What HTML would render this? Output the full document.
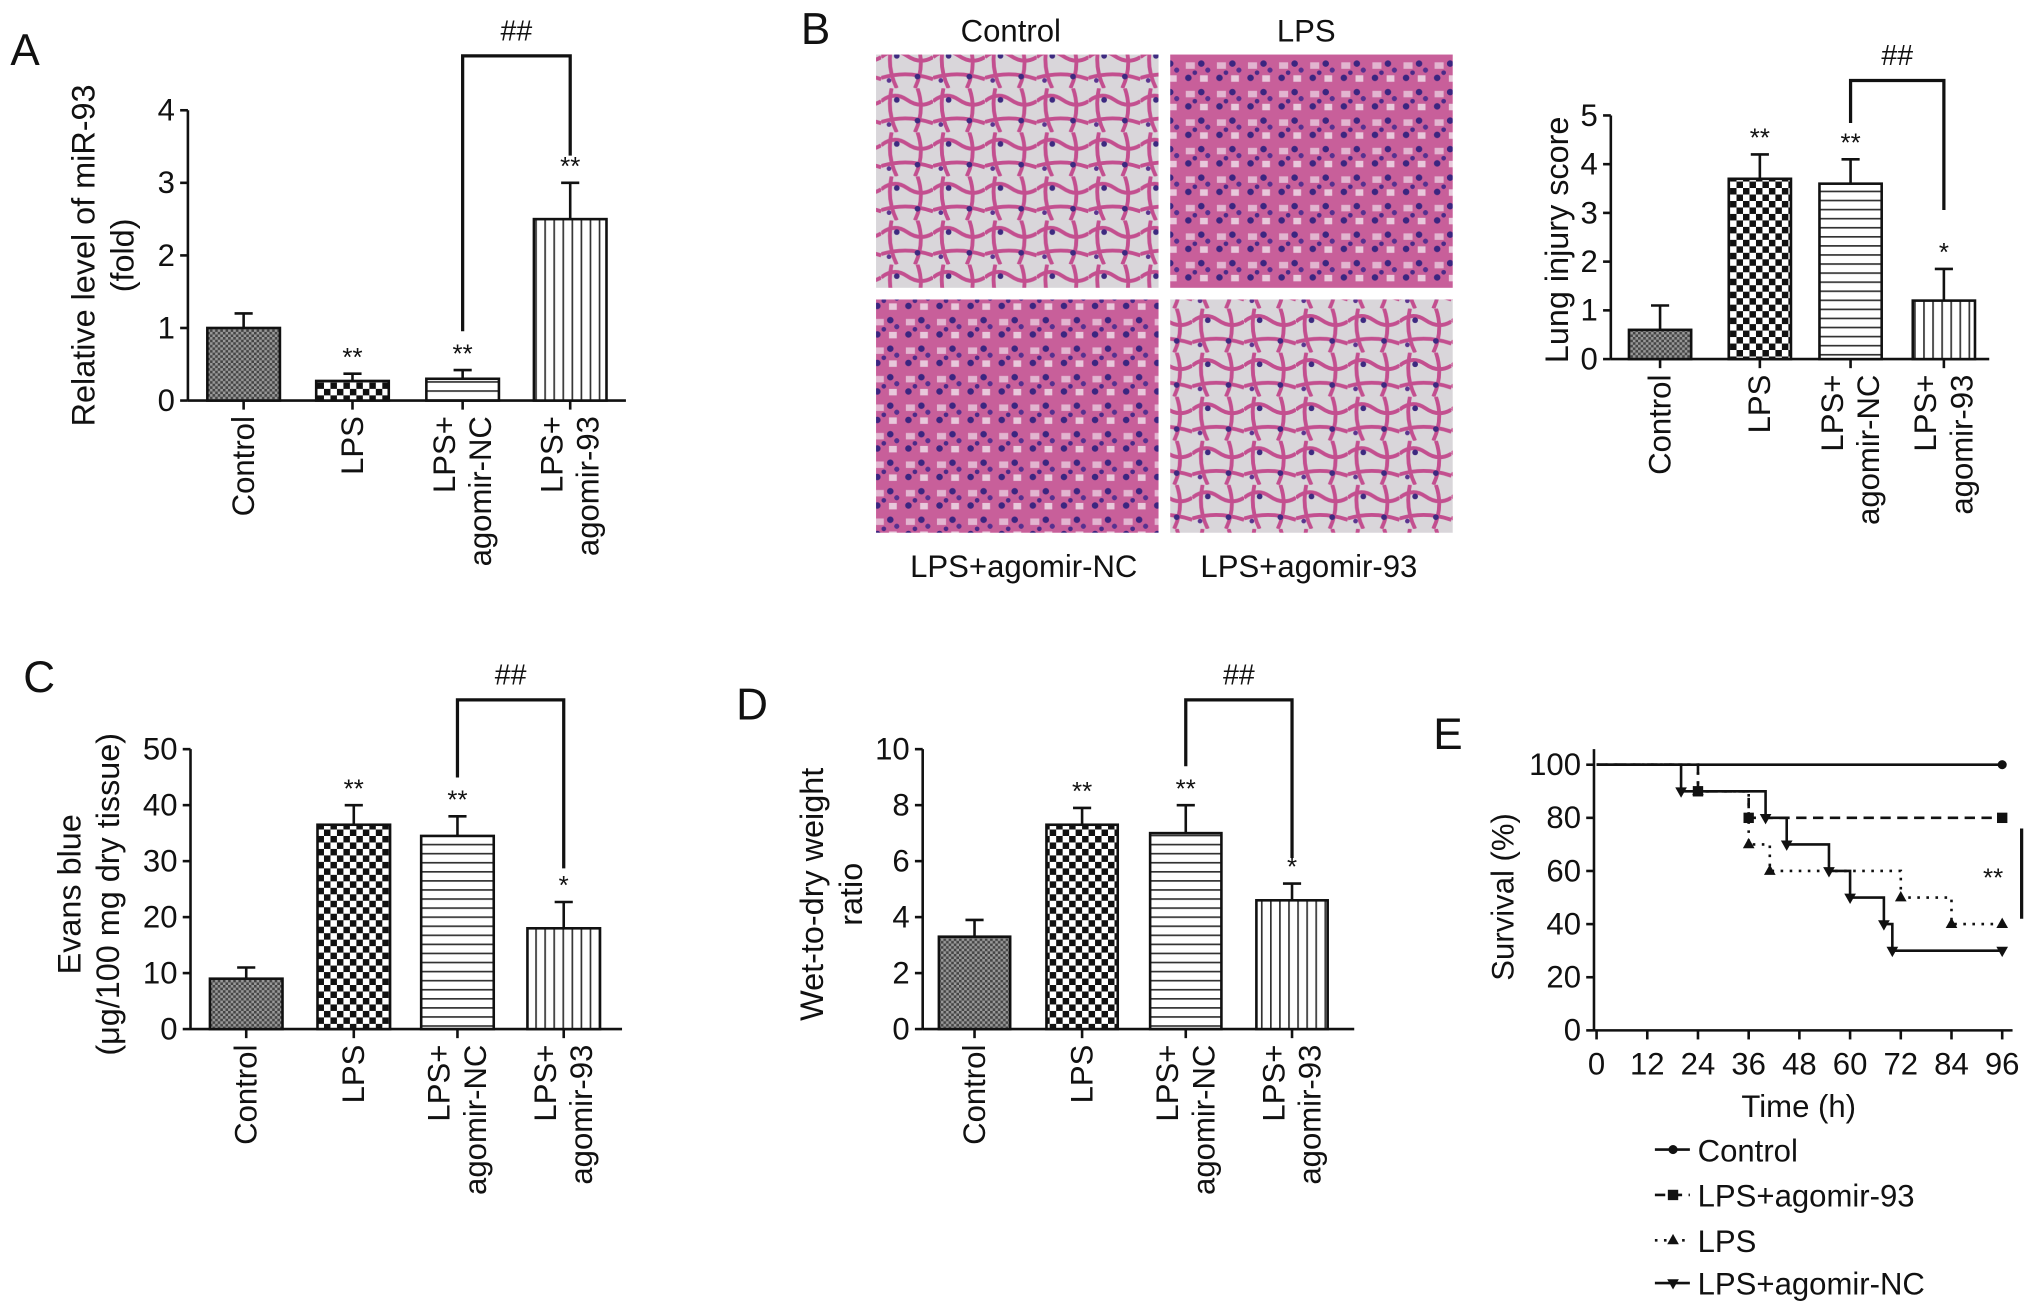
<!DOCTYPE html>
<html><head><meta charset="utf-8"><style>html,body{margin:0;padding:0;background:#fff}svg{display:block}text{font-family:"Liberation Sans",Arial,sans-serif;fill:#111}</style></head>
<body>
<svg id="fig" width="2032" height="1313" viewBox="0 0 1568 1013" xmlns="http://www.w3.org/2000/svg">
<defs>
<pattern id="pCtrl" width="4" height="4" patternUnits="userSpaceOnUse"><rect width="4" height="4" fill="#999"/><rect width="2" height="2" fill="#444"/><rect x="2" y="2" width="2" height="2" fill="#444"/></pattern>
<pattern id="pLps" width="10" height="10" patternUnits="userSpaceOnUse"><rect width="10" height="10" fill="#fff"/><rect width="5" height="5" fill="#111"/><rect x="5" y="5" width="5" height="5" fill="#111"/></pattern>
<pattern id="pNc" width="10" height="7" patternUnits="userSpaceOnUse"><rect width="10" height="7" fill="#fff"/><rect y="0" width="10" height="1.3" fill="#333"/></pattern>
<pattern id="p93" width="7" height="10" patternUnits="userSpaceOnUse"><rect width="7" height="10" fill="#fff"/><rect x="0" width="1.3" height="10" fill="#333"/></pattern>
<pattern id="hLoose" width="40" height="34" patternUnits="userSpaceOnUse"><rect width="40" height="34" fill="#d9d6da"/><path d="M0 10 Q10 2 20 9 T40 10 M8 0 Q4 18 12 34 M28 0 Q34 17 26 34 M0 26 Q20 20 40 27" stroke="#c34f8f" stroke-width="3" fill="none"/><circle cx="12" cy="9" r="2.2" fill="#3d2a80"/><circle cx="28" cy="25" r="2.2" fill="#3d2a80"/><circle cx="6" cy="28" r="1.8" fill="#5a3590"/></pattern>
<pattern id="hDense" width="24" height="22" patternUnits="userSpaceOnUse"><rect width="24" height="22" fill="#c85f9a"/><rect x="3" y="4" width="7" height="5" fill="#e2b5d0"/><rect x="14" y="14" width="6" height="5" fill="#e8c8db"/><circle cx="15" cy="5" r="2.5" fill="#3b2580"/><circle cx="5" cy="16" r="2.5" fill="#3b2580"/><circle cx="20" cy="10" r="2" fill="#55308f"/><circle cx="10" cy="12" r="1.8" fill="#4a2a88"/></pattern>
</defs>

<text x="8" y="50" font-size="34">A</text>
<text x="618" y="34" font-size="34">B</text>
<text x="18" y="534" font-size="34">C</text>
<text x="568" y="555" font-size="34">D</text>
<text x="1106" y="578" font-size="34">E</text>

<g>
<text x="780" y="32" font-size="24" text-anchor="middle">Control</text>
<text x="1008" y="32" font-size="24" text-anchor="middle">LPS</text>
<rect x="676" y="42" width="218" height="180" fill="url(#hLoose)"/>
<rect x="903" y="42" width="218" height="180" fill="url(#hDense)"/>
<rect x="676" y="231" width="218" height="180" fill="url(#hDense)"/>
<rect x="903" y="231" width="218" height="180" fill="url(#hLoose)"/>
<text x="790" y="445" font-size="24" text-anchor="middle">LPS+agomir-NC</text>
<text x="1010" y="445" font-size="24" text-anchor="middle">LPS+agomir-93</text>
</g>
<g id="charts"></g>
</svg>
<script>
const groups = ["Control","LPS","LPS+|agomir-NC","LPS+|agomir-93"];
const fills = ["url(#pCtrl)","url(#pLps)","url(#pNc)","url(#p93)"];
const aValues = [1.0,0.27,0.3,2.5];
const aErrors = [0.2,0.1,0.12,0.5];
const aStars = ["","**","**","**"];
const aTicks = [0,1,2,3,4];
const bValues = [0.6,3.7,3.6,1.2];
const bErrors = [0.5,0.5,0.5,0.65];
const bStars = ["","**","**","*"];
const bTicks = [0,1,2,3,4,5];
const cValues = [9,36.5,34.5,18];
const cErrors = [2,3.5,3.5,4.7];
const cStars = ["","**","**","*"];
const cTicks = [0,10,20,30,40,50];
const dValues = [3.3,7.3,7.0,4.6];
const dErrors = [0.6,0.6,1.0,0.6];
const dStars = ["","**","**","*"];
const dTicks = [0,2,4,6,8,10];
const survTicksX = [0,12,24,36,48,60,72,84,96];
const survTicksY = [0,20,40,60,80,100];
const ctrlT = [0,96]; const ctrlS = [100,100];
const ag93T = [0,24,36,96]; const ag93S = [100,90,80,80];
const lpsT = [0,24,36,41,72,84,96]; const lpsS = [100,90,70,60,50,40,40];
const ncT = [0,20,40,45,55,60,68,70,96]; const ncS = [100,90,80,70,60,50,40,30,30];

const NS="http://www.w3.org/2000/svg";
const root=document.getElementById('charts');
function mk(tag,attrs,parent,txt){const e=document.createElementNS(NS,tag);for(const k in attrs)e.setAttribute(k,attrs[k]);if(txt!==undefined)e.textContent=txt;(parent||root).appendChild(e);return e;}

function barChart(o){
  const g=mk('g',{});
  
  
  const y=v=>o.y0-(v/o.ymax)*(o.y0-o.ytop);
  const ax=mk('line',{x1:o.ax,y1:o.y0,x2:o.ax,y2:o.ytop,stroke:'#111','stroke-width':2},g);
  
  
  const bx=mk('line',{x1:o.ax,y1:o.y0,x2:o.xend,y2:o.y0,stroke:'#111','stroke-width':2},g);
  
  
  o.ticks.forEach(t=>{
    mk('line',{x1:o.ax-6,y1:y(t),x2:o.ax,y2:y(t),stroke:'#111','stroke-width':2},g);
    const tl=mk('text',{x:o.ax-10,y:y(t)+8,'font-size':24,'text-anchor':'end'},g,t);
    
    
  });
  o.values.forEach((v,i)=>{
    const cx=o.centers[i];const w=o.bw;
    const top=y(v), et=y(v+o.errors[i]);
    mk('line',{x1:cx,y1:top,x2:cx,y2:et,stroke:'#111','stroke-width':2},g);
    mk('line',{x1:cx-7,y1:et,x2:cx+7,y2:et,stroke:'#111','stroke-width':2},g);
    const r=mk('rect',{x:cx-w/2,y:top,width:w,height:o.y0-top,fill:fills[i],stroke:'#111','stroke-width':2},g);
    
    
    if(o.stars[i]){const s=mk('text',{x:cx,y:et-6,'font-size':20,'text-anchor':'middle'},g,o.stars[i]);
      
      }
    mk('line',{x1:cx,y1:o.y0,x2:cx,y2:o.y0+7,stroke:'#111','stroke-width':2},g);
    const parts=groups[i].split('|');
    parts.forEach((p,j)=>{
      const xx=cx+(parts.length===2?(j===0?-6:22):8);
      const t=mk('text',{x:0,y:0,'font-size':24,'text-anchor':'end',transform:`translate(${xx},${o.y0+12}) rotate(-90)`},g,p);
      
      
    });
  });
  o.ylab.forEach((l,j)=>{
    const t=mk('text',{x:0,y:0,'font-size':25,'text-anchor':'middle',transform:`translate(${o.ylx+j*30},${o.yly}) rotate(-90)`},g,l);
    
    
  });
  const c2=o.centers[2], c3=o.centers[3];
  const b=mk('path',{d:`M${c2} ${y(o.values[2]+o.errors[2])-o.bkL} V${o.bkTop} H${c3} V${o.bkR}`,stroke:'#111','stroke-width':2.5,fill:'none'},g);
  
  
  const h=mk('text',{x:(c2+c3)/2,y:o.bkTop-12,'font-size':22,'text-anchor':'middle'},g,'##');
  
  
}

barChart({name:'chart-a-mir93',values:aValues,errors:aErrors,stars:aStars,ticks:aTicks,ymax:4,ax:145,y0:309,ytop:85,xend:483,centers:[188,272,357,440],bw:56,ylab:['Relative level of miR-93','(fold)'],ylx:73,yly:197,bkL:30,bkTop:43,bkR:120});
barChart({name:'chart-b-lung-injury',values:bValues,errors:bErrors,stars:bStars,ticks:bTicks,ymax:5,ax:1243,y0:277,ytop:89,xend:1535,centers:[1281,1358,1428,1500],bw:48,ylab:['Lung injury score'],ylx:1210,yly:185,bkL:28,bkTop:62,bkR:162});
barChart({name:'chart-c-evans-blue',values:cValues,errors:cErrors,stars:cStars,ticks:cTicks,ymax:50,ax:147,y0:794,ytop:578,xend:480,centers:[190,273,353,435],bw:56,ylab:['Evans blue','(μg/100 mg dry tissue)'],ylx:62,yly:690,bkL:30,bkTop:540,bkR:670});
barChart({name:'chart-d-wet-dry',values:dValues,errors:dErrors,stars:dStars,ticks:dTicks,ymax:10,ax:712,y0:794,ytop:578,xend:1045,centers:[752,835,915,997],bw:55,ylab:['Wet-to-dry weight','ratio'],ylx:635,yly:690,bkL:30,bkTop:540,bkR:662});

(function(){
  const g=mk('g',{});
  
  
  const X=t=>1232+t*(1545-1232)/96, Y=s=>795-s*(795-590)/100;
  mk('line',{x1:1230,y1:795,x2:1553,y2:795,stroke:'#111','stroke-width':2},g);
  mk('line',{x1:1230,y1:795,x2:1230,y2:578,stroke:'#111','stroke-width':2},g);
  survTicksX.forEach(t=>{mk('line',{x1:X(t),y1:795,x2:X(t),y2:802,stroke:'#111','stroke-width':2},g);
    const l=mk('text',{x:X(t),y:829,'font-size':24,'text-anchor':'middle'},g,t);
    
    });
  survTicksY.forEach(s=>{mk('line',{x1:1224,y1:Y(s),x2:1230,y2:Y(s),stroke:'#111','stroke-width':2},g);
    const l=mk('text',{x:1220,y:Y(s)+8,'font-size':24,'text-anchor':'end'},g,s);
    
    });
  const xt=mk('text',{x:1388,y:862,'font-size':24,'text-anchor':'middle'},g,'Time (h)');
  
  
  const yt=mk('text',{x:0,y:0,'font-size':24,'text-anchor':'middle',transform:'translate(1168,692) rotate(-90)'},g,'Survival (%)');
  
  
  function series(T,S,dash,marker,name){
    let d=`M${X(T[0])} ${Y(S[0])}`;
    for(let i=1;i<T.length;i++){d+=` H${X(T[i])} V${Y(S[i])}`;}
    const p=mk('path',{d:d,stroke:'#111','stroke-width':2,fill:'none','stroke-dasharray':dash},g);
    
    
    for(let i=1;i<T.length;i++){drawMarker(X(T[i]),Y(S[i]),marker);}
  }
  function drawMarker(x,y,m){
    if(m==='c')mk('circle',{cx:x,cy:y,r:3.5,fill:'#111'},g);
    else if(m==='s')mk('rect',{x:x-4,y:y-4,width:8,height:8,fill:'#111'},g);
    else if(m==='t')mk('path',{d:`M${x} ${y-5} L${x+4.5} ${y+3} L${x-4.5} ${y+3}Z`,fill:'#111'},g);
    else mk('path',{d:`M${x} ${y+5} L${x+4.5} ${y-3} L${x-4.5} ${y-3}Z`,fill:'#111'},g);
  }
  series(ctrlT,ctrlS,'none','c','control');
  series(ag93T,ag93S,'8 5','s','agomir-93');
  series(lpsT,lpsS,'2 5','t','lps');
  series(ncT,ncS,'none','v','agomir-nc');
  mk('line',{x1:1560,y1:Y(76),x2:1560,y2:Y(42),stroke:'#111','stroke-width':2.5},g);
  const st=mk('text',{x:1538,y:Y(58)+8,'font-size':20,'text-anchor':'middle'},g,'**');
  
  
  const leg=[['Control','none','c'],['LPS+agomir-93','8 5','s'],['LPS','2 5','t'],['LPS+agomir-NC','none','v']];
  const ly=[887,922,957,990];
  leg.forEach((e,i)=>{
    const lg=mk('g',{},g);
    
    
    mk('line',{x1:1277,y1:ly[i],x2:1304,y2:ly[i],stroke:'#111','stroke-width':2,'stroke-dasharray':e[1]},lg);
    drawMarker(1291,ly[i],e[2]);
    mk('text',{x:1310,y:ly[i]+9,'font-size':24},lg,e[0]);
  });
})();
</script>
</body></html>
